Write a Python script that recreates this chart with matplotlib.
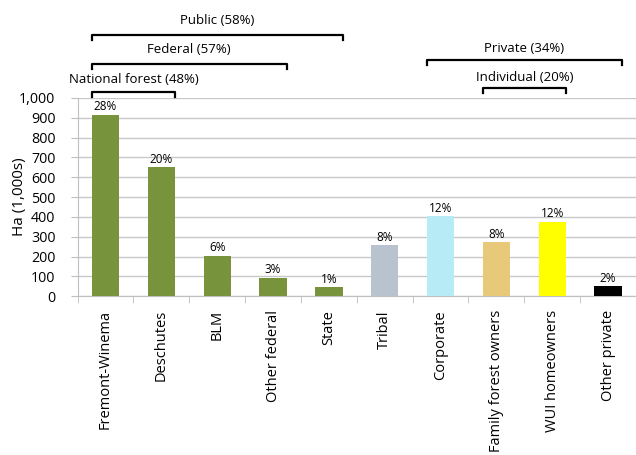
import matplotlib.pyplot as plt
from matplotlib.transforms import blended_transform_factory

# data
owners = ["Fremont-Winema", "Deschutes", "BLM", "Other federal", "State",
          "Tribal", "Corporate", "Family forest owners", "WUI homeowners", "Other private"]
ha = [914, 649, 205, 94, 44, 257, 402, 271, 375, 49]
shares = ["28%", "20%", "6%", "3%", "1%", "8%", "12%", "8%", "12%", "2%"]
colors = ["#77933C", "#77933C", "#77933C", "#77933C", "#77933C",
          "#B9C3D0", "#B7EBF5", "#E8C97A", "#FFFF00", "#000000"]

# groups: label, first bar, last bar, bracket height, label height (axes fraction)
groups = [
    ("Public (58%)", 0, 4, 1.316, 1.392),
    ("Federal (57%)", 0, 3, 1.170, 1.245),
    ("National forest (48%)", 0, 1, 1.029, 1.090),
    ("Private (34%)", 6, 9, 1.190, 1.250),
    ("Individual (20%)", 7, 8, 1.049, 1.100),
]

plt.rcParams['font.family'] = ['Open Sans', 'DejaVu Sans']

fig = plt.figure(figsize=(6.36, 4.55), dpi=100)
ax = fig.add_axes([0.122, 0.349, 0.878, 0.436])

x = list(range(len(owners)))
bw = 0.49
ax.bar(x, ha, width=bw, color=colors, zorder=3)
for xi, v, s in zip(x, ha, shares):
    ax.text(xi, v + 8, s, ha="center", va="bottom", fontsize=8.5)

ax.set_xlim(-0.5, 9.46)
ax.set_ylim(0, 1000)
ax.set_yticks(range(0, 1001, 100))
ax.set_yticklabels([f"{v:,}" for v in range(0, 1001, 100)], fontsize=10.3)
ax.yaxis.grid(True, color="#C8C8C8", linewidth=1, zorder=0)
ax.tick_params(axis="y", length=5, color="#BFBFBF", pad=11)
ax.set_ylabel("Ha (1,000s)", fontsize=11)
ax.yaxis.set_label_coords(-0.09, 0.5)

ax.set_xticks(x)
ax.set_xticklabels(owners, rotation=90, fontsize=10.5)
ax.tick_params(axis="x", length=0, pad=10)
ax.set_xticks([i + 0.5 for i in range(-1, 10)], minor=True)
ax.tick_params(axis="x", which="minor", length=5, color="#BFBFBF")

for side in ["top", "right"]:
    ax.spines[side].set_visible(False)
ax.spines["left"].set_color("#BFBFBF")
ax.spines["bottom"].set_color("#BFBFBF")

# brackets above the bars
tr = blended_transform_factory(ax.transData, ax.transAxes)
for label, a, b, yb, yt in groups:
    x0 = a - bw / 2
    x1 = b + bw / 2
    ax.plot([x0, x0, x1, x1], [yb - 0.025, yb, yb, yb - 0.025], color="black",
            linewidth=1.6, transform=tr, clip_on=False, solid_joinstyle="round")
    ax.text((x0 + x1) / 2, yt, label, ha="center", va="center", fontsize=9.5,
            transform=tr)

fig.savefig("out.png", dpi=100)
